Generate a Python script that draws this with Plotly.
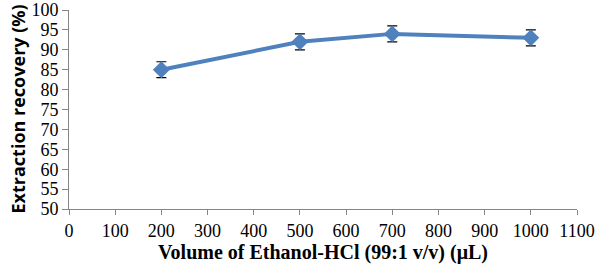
import plotly.graph_objects as go

volume = [200, 500, 700, 1000]
recovery = [85, 92, 94, 93]
err = [2, 2, 2, 2]
x_ticks = list(range(0, 1101, 100))
y_ticks = list(range(50, 101, 5))

fig = go.Figure()
fig.add_trace(go.Scatter(
    x=volume, y=recovery, mode="lines+markers",
    line=dict(color="#4F81BD", width=4),
    marker=dict(symbol="diamond", size=13, color="#4F81BD"),
    error_y=dict(type="data", array=err, color="black", thickness=1.2, width=5),
    showlegend=False,
))

axis_line = "#868686"
fig.update_layout(
    width=598, height=266,
    margin=dict(l=69, r=21, t=10, b=57),
    plot_bgcolor="white", paper_bgcolor="white",
    xaxis=dict(
        range=[0, 1100], tickvals=x_ticks, showgrid=False, zeroline=False,
        showline=True, linecolor=axis_line, linewidth=1, automargin=False,
        ticks="outside", ticklen=5, tickcolor=axis_line,
        tickfont=dict(family="Liberation Serif", size=18, color="black"),
        title=dict(text="<b>Volume of Ethanol-HCl (99:1 v/v) (μL)</b>",
                   font=dict(family="Liberation Serif", size=20, color="black"),
                   standoff=2),
    ),
    yaxis=dict(
        range=[50, 100], tickvals=y_ticks, showgrid=False, zeroline=False,
        showline=True, linecolor=axis_line, linewidth=1, automargin=False,
        ticks="outside", ticklen=6, tickcolor=axis_line,
        tickfont=dict(family="Liberation Serif", size=18, color="black"),
    ),
    annotations=[dict(
        text="<b>Extraction recovery (%)</b>", textangle=-90,
        xref="paper", yref="paper", x=0, y=0.5, xanchor="center", yanchor="middle",
        xshift=-52, showarrow=False,
        font=dict(family="Open Sans", size=18, color="black"),
    )],
)
fig.write_html("out.html", config={"displayModeBar": False},
               post_script="document.body.style.margin='0';")
